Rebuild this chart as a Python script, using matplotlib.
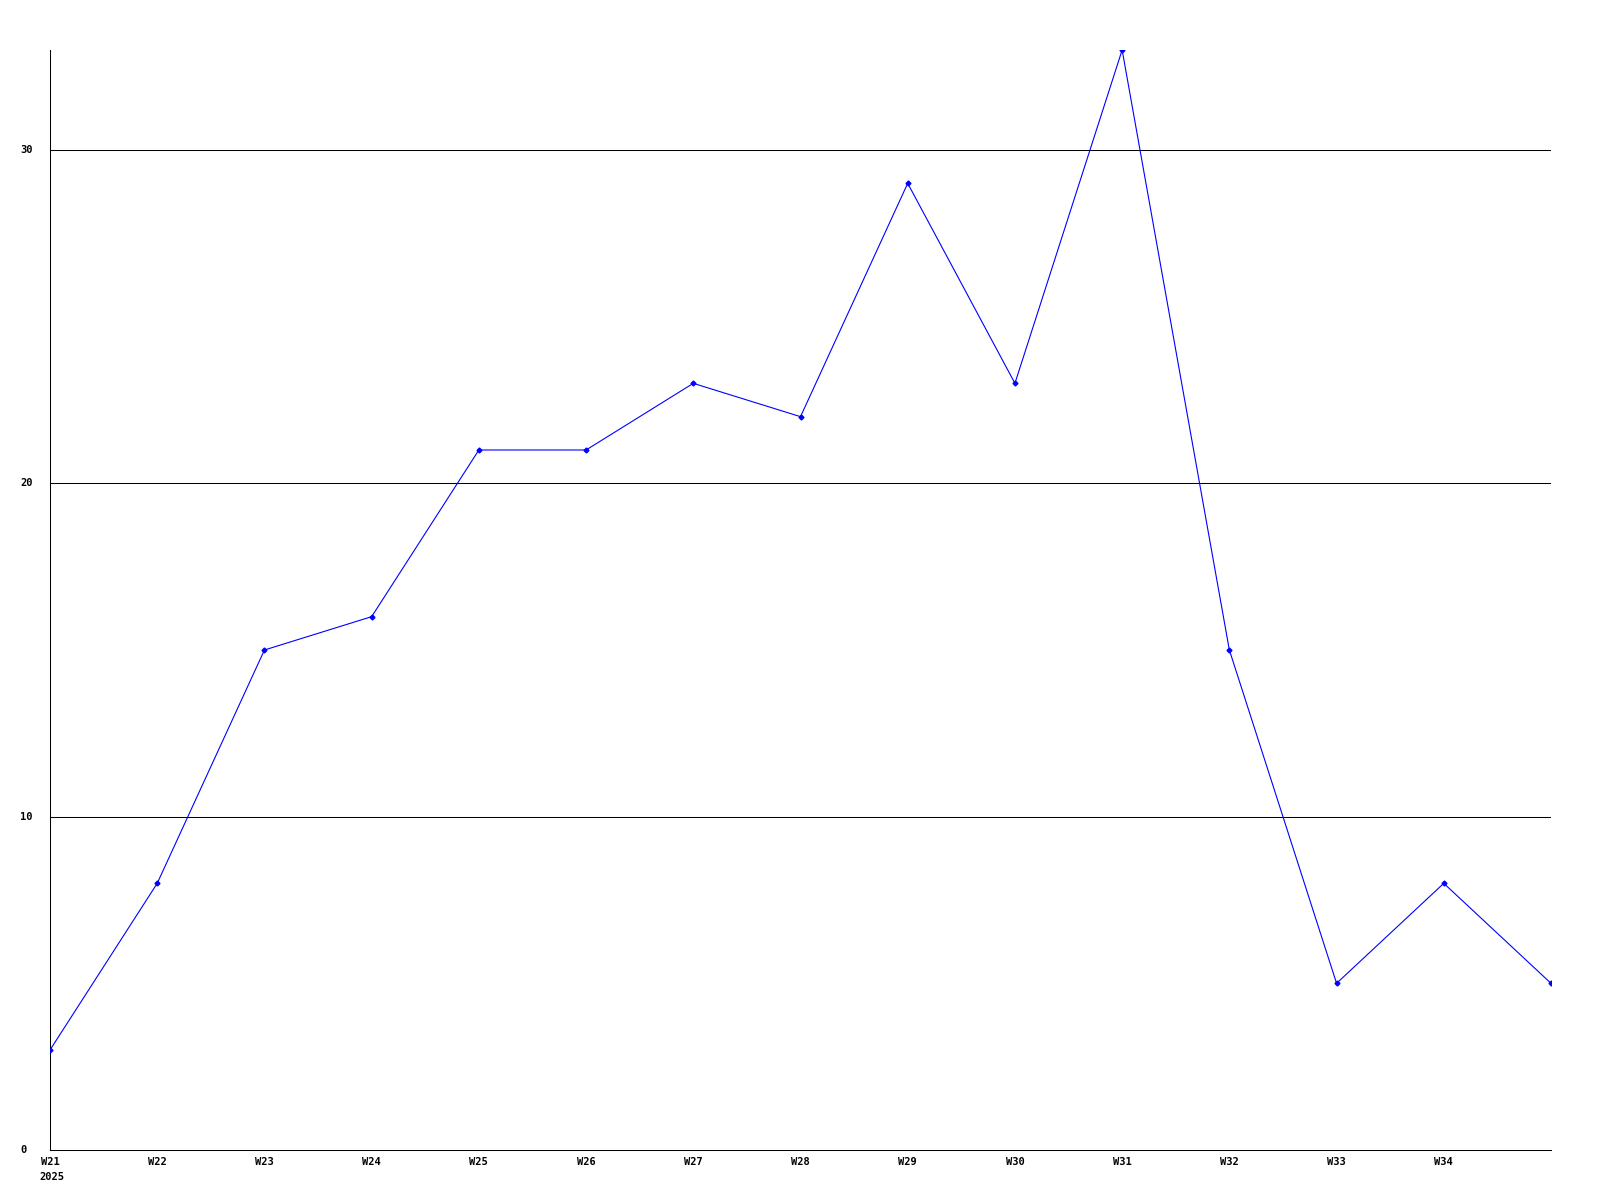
import matplotlib
matplotlib.use("Agg")
import matplotlib.pyplot as plt
import matplotlib.transforms as mtransforms

weeks = ["W21", "W22", "W23", "W24", "W25", "W26", "W27", "W28", "W29",
         "W30", "W31", "W32", "W33", "W34", "W35"]
values = [3, 8, 15, 16, 21, 21, 23, 22, 29, 23, 33, 15, 5, 8, 5]
year_label = "2025"
yticks = [0, 10, 20, 30]

x = list(range(len(weeks)))

fig = plt.figure(figsize=(16, 12), dpi=100)
ax = fig.add_axes([50 / 1600, 50 / 1200, 1501 / 1600, 1100 / 1200])

# 1px lines like the original
for y in yticks[1:]:
    ax.axhline(y, color="black", linewidth=0.75, zorder=1)

ax.plot(x, values, color="#0000ff", linewidth=0.8, marker="D", markersize=2.5, zorder=3)

ax.set_xlim(0, len(weeks) - 1)
ax.set_ylim(0, max(values))

for s in ["top", "right"]:
    ax.spines[s].set_visible(False)
for s in ["left", "bottom"]:
    ax.spines[s].set_color("black")
    ax.spines[s].set_linewidth(0.75)

ax.set_xticks([])
ax.set_yticks([])

font = dict(family="DejaVu Sans Mono", weight="bold", size=7.5)

# y labels, left aligned near figure edge
ytrans = mtransforms.blended_transform_factory(fig.transFigure, ax.transData)
for y in yticks:
    ax.text(20 / 1600, y, str(y), transform=ytrans, ha="left", va="center", **font)

# x labels below the axis, last week left unlabeled
xtrans = mtransforms.blended_transform_factory(ax.transData, fig.transFigure)
for i, w in enumerate(weeks[:-1]):
    ax.text(x[i], 1 - 1157 / 1200, w, transform=xtrans, ha="center", va="top", **font)
ax.text(x[0] - 0.1, 1 - 1172 / 1200, year_label, transform=xtrans, ha="left", va="top", **font)

fig.savefig("out.png", dpi=100)
